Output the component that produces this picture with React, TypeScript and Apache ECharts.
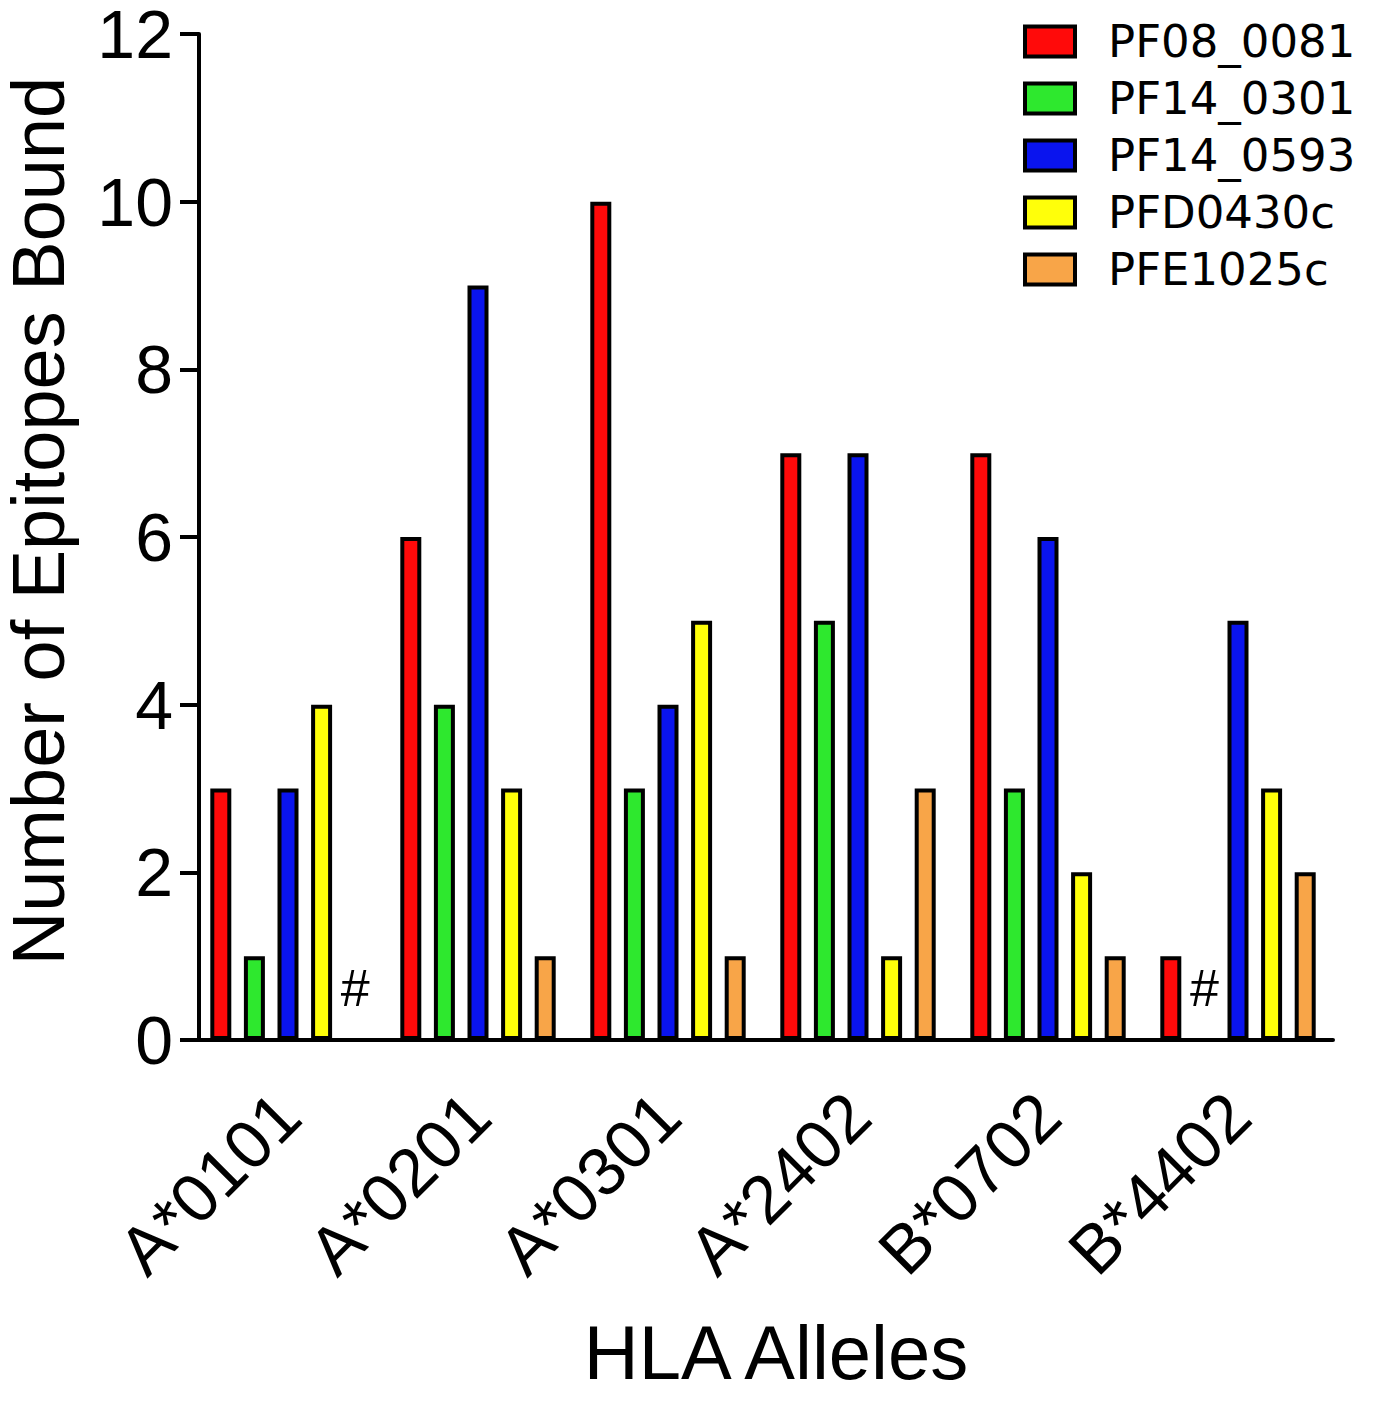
import React, { useEffect, useRef } from "react";
import * as echarts from "echarts";

const categories = ["A*0101", "A*0201", "A*0301", "A*2402", "B*0702", "B*4402"];
const seriesNames = ["PF08_0081", "PF14_0301", "PF14_0593", "PFD0430c", "PFE1025c"];
const pf08_0081 = [3, 6, 10, 7, 7, 1];
const pf14_0301 = [1, 4, 3, 5, 3, 0];
const pf14_0593 = [3, 9, 4, 7, 6, 5];
const pfd0430c = [4, 3, 5, 1, 2, 3];
const pfe1025c = [0, 1, 1, 3, 1, 2];
const seriesValues = [pf08_0081, pf14_0301, pf14_0593, pfd0430c, pfe1025c];
const colors = ["#ff0a0a", "#2ee82e", "#0a14ee", "#ffff0a", "#f8a548"];
const yTicks = { min: 0, max: 12, interval: 2 };

export default function App() {
  const ref = useRef<HTMLDivElement>(null);
  useEffect(() => {
    if (!ref.current) return;
    const chart = echarts.init(ref.current, null, { renderer: "svg" });
    const font = "'Liberation Sans', Arial, sans-serif";
    const series = seriesNames.map((name, i) => ({
      name,
      type: "bar",
      barWidth: 21,
      barGap: "60%",
      itemStyle: { color: colors[i], borderColor: "#000", borderWidth: 4 },
      data: seriesValues[i].map((v) =>
        v === 0
          ? {
              value: 0,
              itemStyle: { borderWidth: 0 },
              label: {
                show: true,
                position: "top",
                distance: 26,
                formatter: "#",
                fontSize: 52,
                fontFamily: font,
                color: "#000",
              },
            }
          : v
      ),
    }));
    chart.setOption({
      animation: false,
      backgroundColor: "#fff",
      grid: {
        left: 193,
        right: 45,
        top: 34,
        bottom: 361,
        containLabel: false,
        outerBoundsMode: "none",
      },
      legend: {
        orient: "vertical",
        left: 1023,
        top: 19,
        padding: 0,
        itemWidth: 50,
        itemHeight: 30,
        itemGap: 12,
        icon: "rect",
        data: seriesNames,
        itemStyle: { borderColor: "#000", borderWidth: 4 },
        textStyle: {
          fontFamily: "'DejaVu Sans', sans-serif",
          fontSize: 45,
          lineHeight: 45,
          color: "#000",
          padding: [0, 0, 0, 28],
        },
      },
      xAxis: {
        type: "category",
        data: categories,
        name: "HLA Alleles",
        nameLocation: "middle",
        nameGap: 274,
        nameTextStyle: {
          fontFamily: font,
          fontSize: 76,
          color: "#000",
          padding: [0, 0, 0, 26],
        },
        axisLine: { lineStyle: { color: "#000", width: 4 } },
        axisTick: { alignWithLabel: true, length: 20, lineStyle: { color: "#000", width: 4 } },
        axisLabel: {
          rotate: 45,
          margin: 64,
          fontSize: 68,
          fontFamily: font,
          color: "#000",
        },
      },
      yAxis: {
        type: "value",
        min: yTicks.min,
        max: yTicks.max,
        interval: yTicks.interval,
        offset: -6,
        name: "Number of Epitopes Bound",
        nameLocation: "middle",
        nameRotate: 90,
        nameGap: 130,
        nameTextStyle: {
          fontFamily: font,
          fontSize: 74,
          lineHeight: 62,
          color: "#000",
          padding: [0, 0, 0, 32],
        },
        splitLine: { show: false },
        axisLine: { show: true, lineStyle: { color: "#000", width: 4 } },
        axisTick: { show: true, length: 19, lineStyle: { color: "#000", width: 4 } },
        axisLabel: {
          margin: 26,
          fontSize: 68,
          lineHeight: 40,
          fontFamily: font,
          color: "#000",
        },
      },
      graphic: [
        {
          type: "line",
          shape: { x1: 180, y1: 1040, x2: 199, y2: 1040 },
          style: { stroke: "#000", lineWidth: 4 },
        },
      ],
      series,
    });
    return () => chart.dispose();
  }, []);
  return (
    <div
      ref={ref}
      style={{ position: "fixed", left: 0, top: 0, width: 1378, height: 1401, background: "#fff" }}
    />
  );
}
